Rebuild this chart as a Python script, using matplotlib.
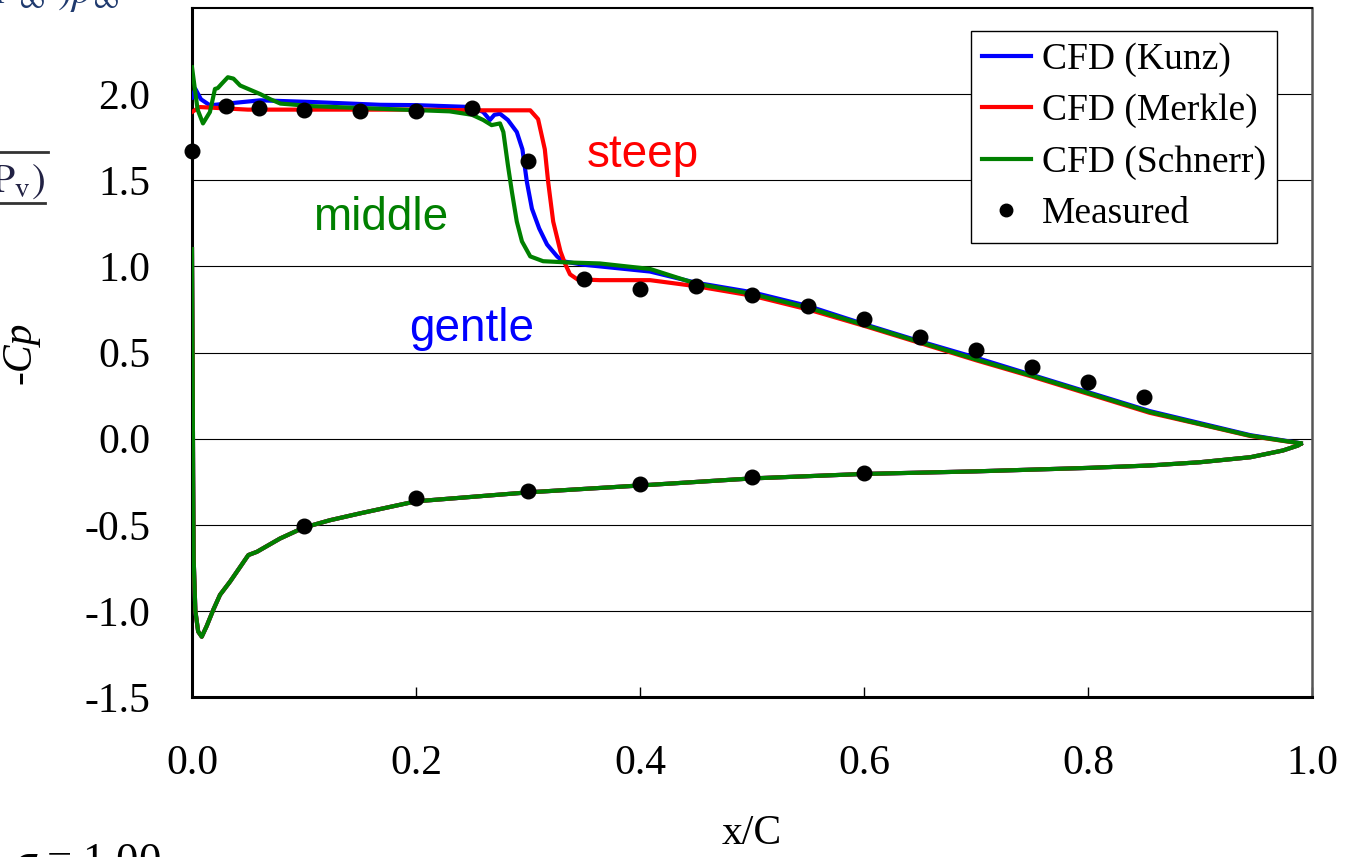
import matplotlib
matplotlib.use("Agg")
import matplotlib.pyplot as plt
from matplotlib.lines import Line2D

plt.rcParams['font.family'] = ['Liberation Serif', 'DejaVu Serif']
plt.rcParams['mathtext.fontset'] = 'stix'

# ---- data ----
x_kunz_upper = [0.0, 0.003, 0.008, 0.016, 0.031, 0.061, 0.108, 0.168, 0.2, 0.25, 0.26, 0.266,
                0.27, 0.275, 0.282, 0.29, 0.295, 0.299, 0.3035, 0.31, 0.317, 0.326, 0.331, 0.349,
                0.409, 0.45, 0.5, 0.55, 0.6, 0.65, 0.7, 0.75, 0.8, 0.855, 0.9, 0.945, 0.974, 0.99]
cp_kunz_upper = [1.98, 2.03, 1.97, 1.935, 1.945, 1.964, 1.954, 1.938, 1.936, 1.925, 1.896, 1.85,
                 1.88, 1.886, 1.85, 1.78, 1.68, 1.49, 1.335, 1.22, 1.127, 1.058, 1.03, 1.01,
                 0.97, 0.905, 0.85, 0.77, 0.665, 0.565, 0.47, 0.37, 0.27, 0.16, 0.09, 0.02, -0.01, -0.027]

x_merkle_upper = [0.0, 0.007, 0.05, 0.1, 0.2, 0.25, 0.302, 0.309, 0.315, 0.318, 0.3225, 0.329,
                  0.333, 0.3375, 0.344, 0.364, 0.409, 0.45, 0.5, 0.55, 0.6, 0.65, 0.7, 0.75,
                  0.8, 0.855, 0.9, 0.945, 0.974, 0.99]
cp_merkle_upper = [1.896, 1.925, 1.91, 1.91, 1.91, 1.906, 1.906, 1.855, 1.68, 1.49, 1.26, 1.087,
                   1.017, 0.954, 0.925, 0.92, 0.92, 0.885, 0.83, 0.75, 0.655, 0.555, 0.455, 0.36,
                   0.26, 0.15, 0.083, 0.015, -0.013, -0.028]

x_schnerr_upper = [0.0, 0.005, 0.0098, 0.016, 0.0205, 0.023, 0.0265, 0.032, 0.037, 0.043, 0.061,
                   0.07, 0.079, 0.108, 0.168, 0.23, 0.25, 0.26, 0.2675, 0.275, 0.278, 0.282,
                   0.2857, 0.29, 0.2946, 0.302, 0.3135, 0.335, 0.364, 0.409, 0.45, 0.5, 0.55,
                   0.6, 0.65, 0.7, 0.75, 0.8, 0.855, 0.9, 0.945, 0.974, 0.99]
cp_schnerr_upper = [2.156, 1.91, 1.83, 1.896, 2.03, 2.035, 2.06, 2.098, 2.09, 2.05, 2.0,
                    1.97, 1.945, 1.93, 1.915, 1.90, 1.88, 1.85, 1.82, 1.83, 1.78, 1.59,
                    1.43, 1.26, 1.145, 1.058, 1.03, 1.023, 1.017, 0.985, 0.90, 0.84, 0.76,
                    0.66, 0.56, 0.46, 0.365, 0.265, 0.155, 0.085, 0.017, -0.012, -0.027]

x_lower = [0.0, 0.0005, 0.001, 0.0015, 0.003, 0.0055, 0.0087, 0.013, 0.019, 0.025, 0.034, 0.0503,
           0.058, 0.0786, 0.1, 0.123, 0.15, 0.2, 0.3, 0.4, 0.5, 0.6, 0.7, 0.8, 0.855, 0.9,
           0.945, 0.974, 0.9875, 0.99]
cp_lower = [1.1, 0.5, -0.2, -0.7, -1.0, -1.12, -1.15, -1.09, -0.994, -0.907, -0.83, -0.676,
            -0.657, -0.58, -0.516, -0.474, -0.434, -0.364, -0.312, -0.272, -0.231, -0.205,
            -0.19, -0.17, -0.156, -0.137, -0.108, -0.069, -0.04, -0.03]

x_measured = [0.0, 0.03, 0.06, 0.10, 0.15, 0.20, 0.25, 0.30, 0.35, 0.40, 0.45, 0.50, 0.55,
              0.60, 0.65, 0.70, 0.75, 0.80, 0.85,
              0.10, 0.20, 0.30, 0.40, 0.50, 0.60]
cp_measured = [1.67, 1.93, 1.92, 1.91, 1.90, 1.90, 1.92, 1.61, 0.925, 0.867, 0.884, 0.832, 0.769,
               0.694, 0.590, 0.514, 0.416, 0.329, 0.243,
               -0.509, -0.347, -0.306, -0.266, -0.225, -0.202]

series_labels = ['CFD (Kunz)', 'CFD (Merkle)', 'CFD (Schnerr)', 'Measured']
series_colors = ['#0000FF', '#FF0000', '#008000']
x_ticks = [0.0, 0.2, 0.4, 0.6, 0.8, 1.0]
y_ticks = [-1.5, -1.0, -0.5, 0.0, 0.5, 1.0, 1.5, 2.0]

# ---- figure ----
fig = plt.figure(figsize=(13.46, 8.57), dpi=100)
ax = fig.add_axes([192/1346, 160/857, 1120/1346, 689/857])

ax.set_xlim(0.0, 1.0)
ax.set_ylim(-1.5, 2.5)

for yv in y_ticks[1:]:
    ax.axhline(yv, color='black', lw=0.8, zorder=1)

uppers = [(x_kunz_upper, cp_kunz_upper), (x_merkle_upper, cp_merkle_upper),
          (x_schnerr_upper, cp_schnerr_upper)]
for (xu, cu), col, lab in zip(uppers, series_colors, series_labels[:3]):
    ax.plot(xu, cu, color=col, lw=3, label=lab, zorder=3, solid_joinstyle='round')
    ax.plot(x_lower, cp_lower, color=col, lw=3, zorder=3, solid_joinstyle='round')

ax.plot(x_measured, cp_measured, 'o', color='black', ms=10.5, zorder=5,
        clip_on=False, label=series_labels[3])

ax.set_xticks(x_ticks)
ax.set_xticklabels([f"{v:.1f}" for v in x_ticks])
ax.set_yticks(y_ticks)
ax.set_yticklabels([f"{v:.1f}" for v in y_ticks])
ax.tick_params(axis='x', direction='in', length=7, width=1, labelsize=30, pad=34)
ax.tick_params(axis='y', direction='in', length=0, labelsize=30, pad=30)

for s in ['left', 'bottom']:
    ax.spines[s].set_linewidth(2.2)
ax.spines['top'].set_linewidth(1.5)
ax.spines['right'].set_linewidth(1.8)
ax.spines['right'].set_color('#555555')

ax.set_xlabel('x/C', fontsize=30, labelpad=23)
ax.set_ylabel('-Cp', fontsize=30, style='italic', labelpad=32)

leg = ax.legend(handles=[Line2D([], [], color=c, lw=3) for c in series_colors] +
                [Line2D([], [], marker='o', ls='none', color='black', ms=9)],
                labels=series_labels, loc='upper right', bbox_to_anchor=(0.969, 0.9665),
                fontsize=27, frameon=True, fancybox=False, framealpha=1,
                edgecolor='black', handlelength=1.3, handletextpad=0.3,
                labelspacing=0.45, borderpad=0.3, borderaxespad=0)
leg.get_frame().set_linewidth(1.0)

sans = ['Liberation Sans', 'DejaVu Sans']
ax.text(0.4027, 1.645, 'steep', color='#FF0000', fontsize=33, family=sans,
        ha='center', va='center')
ax.text(0.168, 1.28, 'middle', color='#008000', fontsize=33, family=sans,
        ha='center', va='center')
ax.text(0.25, 0.635, 'gentle', color='#0000FF', fontsize=33, family=sans,
        ha='center', va='center')

# fragments of surrounding page content (cut off at the figure edges)
fig.text(13/1346, 1 - 842/857, r'$\sigma$ = 1.00', fontsize=32, ha='left', va='top',
         color='black')
fig.text(45/1346, 1 - 182/857, r'$\mathrm{P_v)}$', fontsize=30, ha='right', va='center',
         color='#222244')
fig.add_artist(Line2D([0, 48/1346], [1 - 152/857, 1 - 152/857], color='#333333', lw=2,
                      transform=fig.transFigure))
fig.add_artist(Line2D([0, 45/1346], [1 - 203/857, 1 - 203/857], color='#333333', lw=2,
                      transform=fig.transFigure))
fig.text(-0.005, 1 - 3/857, r'$P_\infty\ )\rho_\infty$', fontsize=30, ha='left',
         va='baseline', color='#1f3a6e')

fig.savefig('out.png', dpi=100)
